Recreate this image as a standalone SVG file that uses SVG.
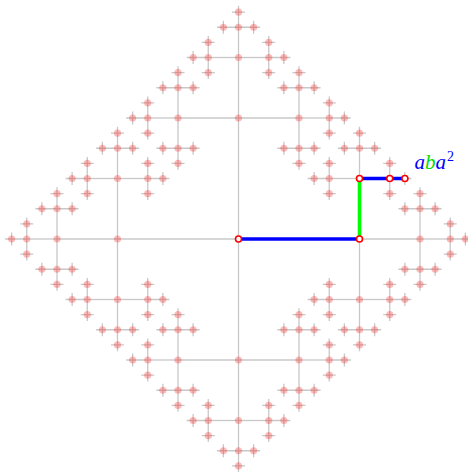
<svg xmlns="http://www.w3.org/2000/svg" xmlns:xlink="http://www.w3.org/1999/xlink" width="468" height="472" viewBox="0 0 468 472">
<style>
.e{fill:none;stroke:#c8c8c8;stroke-width:1.3}
.d{fill:#ff0000;fill-opacity:0.27;stroke:none}
.hl{fill:none;stroke-width:3.6;stroke-linecap:butt}
.rn{fill:#ffffff;stroke:#ff0000;stroke-width:1.6}
.lbl{font-family:"Liberation Serif",serif;font-style:italic;font-size:21px}
</style>
<defs>
<g id="e4"><path class="e" d="M0,0H21.6M15.125,-6.5V6.5"/></g>
<g id="e3"><path class="e" d="M0,0H30.25"/>
<use xlink:href="#e4" href="#e4" transform="translate(30.25,0)"/>
<use xlink:href="#e4" href="#e4" transform="translate(30.25,0) rotate(-90)"/>
<use xlink:href="#e4" href="#e4" transform="translate(30.25,0) rotate(90)"/></g>
<g id="e2"><path class="e" d="M0,0H60.5"/>
<use xlink:href="#e3" href="#e3" transform="translate(60.5,0)"/>
<use xlink:href="#e3" href="#e3" transform="translate(60.5,0) rotate(-90)"/>
<use xlink:href="#e3" href="#e3" transform="translate(60.5,0) rotate(90)"/></g>
<g id="e1"><path class="e" d="M0,0H121"/>
<use xlink:href="#e2" href="#e2" transform="translate(121,0)"/>
<use xlink:href="#e2" href="#e2" transform="translate(121,0) rotate(-90)"/>
<use xlink:href="#e2" href="#e2" transform="translate(121,0) rotate(90)"/></g>
<g id="d4"><circle class="d" cx="15.125" cy="0" r="3.6"/></g>
<g id="d3"><circle class="d" cx="30.25" cy="0" r="3.6"/>
<use xlink:href="#d4" href="#d4" transform="translate(30.25,0)"/>
<use xlink:href="#d4" href="#d4" transform="translate(30.25,0) rotate(-90)"/>
<use xlink:href="#d4" href="#d4" transform="translate(30.25,0) rotate(90)"/></g>
<g id="d2"><circle class="d" cx="60.5" cy="0" r="3.6"/>
<use xlink:href="#d3" href="#d3" transform="translate(60.5,0)"/>
<use xlink:href="#d3" href="#d3" transform="translate(60.5,0) rotate(-90)"/>
<use xlink:href="#d3" href="#d3" transform="translate(60.5,0) rotate(90)"/></g>
<g id="d1"><circle class="d" cx="121" cy="0" r="3.6"/>
<use xlink:href="#d2" href="#d2" transform="translate(121,0)"/>
<use xlink:href="#d2" href="#d2" transform="translate(121,0) rotate(-90)"/>
<use xlink:href="#d2" href="#d2" transform="translate(121,0) rotate(90)"/></g>
</defs>
<g id="connectors" transform="translate(238.5,239)">
<use xlink:href="#e1" href="#e1"/>
<use xlink:href="#e1" href="#e1" transform="rotate(90)"/>
<use xlink:href="#e1" href="#e1" transform="rotate(180)"/>
<use xlink:href="#e1" href="#e1" transform="rotate(270)"/>
</g>
<g id="nodes" transform="translate(238.5,239)">
<circle class="d" cx="0" cy="0" r="3.6"/>
<use xlink:href="#d1" href="#d1"/>
<use xlink:href="#d1" href="#d1" transform="rotate(90)"/>
<use xlink:href="#d1" href="#d1" transform="rotate(180)"/>
<use xlink:href="#d1" href="#d1" transform="rotate(270)"/>
</g>
<g id="path-aba2">
<path class="hl" stroke="#0000ff" d="M238.5,239H359.5"/>
<path class="hl" stroke="#00ff00" d="M359.5,239V178.5"/>
<path class="hl" stroke="#0000ff" d="M359.5,178.5H404.9"/>
<circle class="rn" cx="238.5" cy="239" r="3"/>
<circle class="rn" cx="359.5" cy="239" r="3"/>
<circle class="rn" cx="359.5" cy="178.5" r="3"/>
<circle class="rn" cx="389.75" cy="178.5" r="3"/>
<circle class="rn" cx="404.9" cy="178.5" r="3"/>
</g>
<g id="label">
<text class="lbl" x="414.5" y="169"><tspan fill="#0000ff">a</tspan><tspan fill="#00dd00">b</tspan><tspan fill="#0000ff">a</tspan><tspan fill="#0000ff" font-style="normal" font-size="14" dy="-8.5" dx="1">2</tspan></text>
</g>
</svg>
